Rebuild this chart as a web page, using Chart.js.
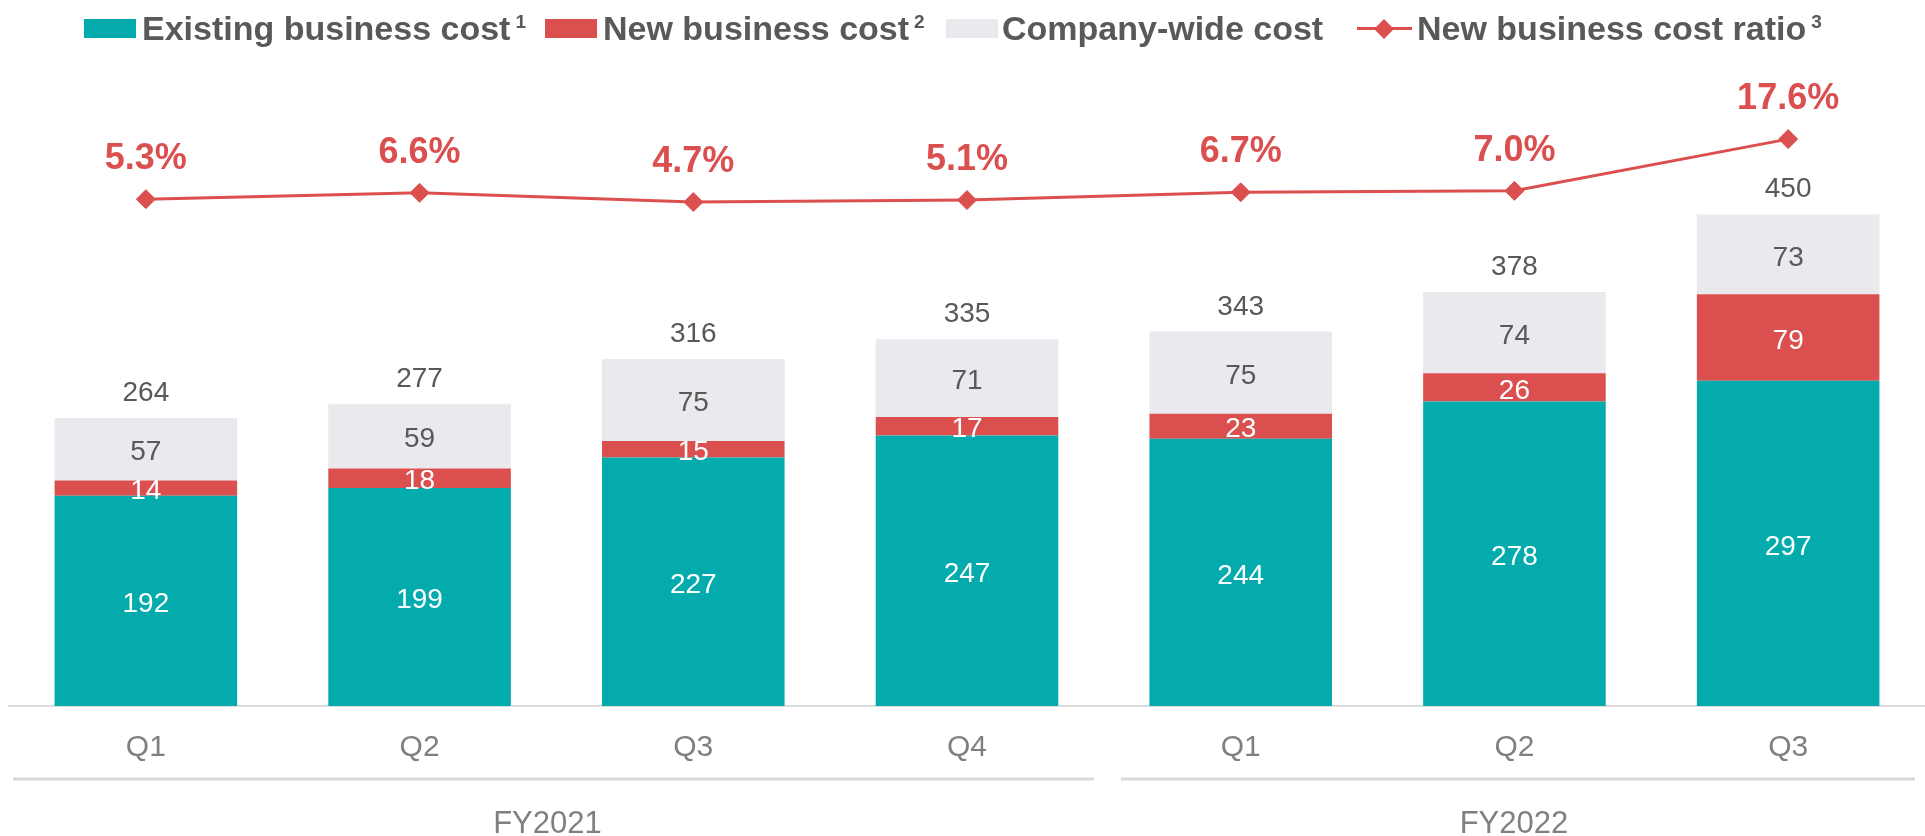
<!DOCTYPE html>
<html>
<head>
<meta charset="utf-8">
<title>Business cost by quarter</title>
<script src="https://cdn.jsdelivr.net/npm/chart.js@4.4.1/dist/chart.umd.min.js"></script>
<style>
  html, body { margin: 0; padding: 0; background: #fff; }
  #wrap {
    position: relative; width: 1925px; height: 836px; overflow: hidden;
    font-family: "Liberation Sans", Arial, Helvetica, sans-serif;
  }
  #costChart { position: absolute; left: 0; top: 0; }
  #legend { position: absolute; left: 0; top: 0; width: 1925px; height: 56px; }
  .lg-item { position: absolute; top: 0; height: 56px; }
  .lg-box { position: absolute; left: 0; top: 19px; width: 52px; height: 19px; }
  .lg-line { position: absolute; left: 0; top: 27px; width: 55px; height: 3px; }
  .lg-diamond { position: absolute; left: 20px; top: 21.5px; width: 14px; height: 14px; transform: rotate(45deg); }
  .lg-text {
    position: absolute; top: 11px; white-space: nowrap;
    font-size: 34px; line-height: 34px; font-weight: bold; color: #595959;
  }
  .lg-text sup {
    font-size: 19px; line-height: 0; vertical-align: baseline;
    position: relative; top: -12px; margin-left: 5px;
  }
</style>
</head>
<body>
<div id="wrap">
  <canvas id="costChart" width="1925" height="836"></canvas>
  <div id="legend"></div>
</div>
<script>
// quarters and the fiscal year each one belongs to
const quarters    = ['Q1', 'Q2', 'Q3', 'Q4', 'Q1', 'Q2', 'Q3'];
const fiscalYears = ['FY2021', 'FY2021', 'FY2021', 'FY2021', 'FY2022', 'FY2022', 'FY2022'];

// cost components
const existingCost    = [192, 199, 227, 247, 244, 278, 297];
const newBizCost      = [14, 18, 15, 17, 23, 26, 79];
const companyWideCost = [57, 59, 75, 71, 75, 74, 73];
// reported totals (rounded separately from the components)
const totalCost       = [264, 277, 316, 335, 343, 378, 450];
// new business cost ratio, %
const newBizRatio     = [5.3, 6.6, 4.7, 5.1, 6.7, 7.0, 17.6];

const TEAL = '#03abac';
const RED  = '#db4f4f';
const GREY = '#e9e9ee';
const TEXT_DARK = '#595959';
const TEXT_AXIS = '#808080';
const FONT = '"Liberation Sans", Arial, Helvetica, sans-serif';

// in-bar values, totals above the stacks and ratio labels above the line
const valueLabels = {
  id: 'valueLabels',
  afterDatasetsDraw(chart) {
    const { ctx } = chart;
    ctx.save();
    ctx.textAlign = 'center';

    ctx.font = `28px ${FONT}`;
    ctx.textBaseline = 'middle';
    chart.data.datasets.forEach((ds, di) => {
      if (ds.type === 'line') return;
      chart.getDatasetMeta(di).data.forEach((bar, i) => {
        ctx.fillStyle = ds.labelColor;
        ctx.fillText(String(ds.data[i]), bar.x, (bar.y + bar.base) / 2 + 3.5);
      });
    });

    // totals
    ctx.textBaseline = 'alphabetic';
    ctx.fillStyle = TEXT_DARK;
    chart.getDatasetMeta(2).data.forEach((bar, i) => {
      ctx.fillText(String(totalCost[i]), bar.x, bar.y - 17);
    });

    // ratio
    ctx.font = `bold 36px ${FONT}`;
    ctx.fillStyle = RED;
    chart.getDatasetMeta(3).data.forEach((pt, i) => {
      ctx.fillText(newBizRatio[i].toFixed(1) + '%', pt.x, pt.y - 30);
    });
    ctx.restore();
  }
};

// fiscal year brackets under the quarter labels
const yearGroups = {
  id: 'yearGroups',
  afterDraw(chart) {
    const { ctx } = chart;
    const x = chart.scales.x;
    const half = (x.getPixelForValue(1) - x.getPixelForValue(0)) / 2;
    const groups = [];
    fiscalYears.forEach((fy, i) => {
      const g = groups[groups.length - 1];
      if (g && g.name === fy) g.last = i;
      else groups.push({ name: fy, first: i, last: i });
    });

    ctx.save();
    groups.forEach((g, gi) => {
      const left = x.getPixelForValue(g.first) - half + (gi === 0 ? 4 : 17);
      const right = x.getPixelForValue(g.last) + half - 10;
      ctx.strokeStyle = '#d9d9d9';
      ctx.lineWidth = 3;
      ctx.beginPath();
      ctx.moveTo(left, 779);
      ctx.lineTo(right, 779);
      ctx.stroke();

      const mid = (left + right) / 2 - (gi === 0 ? 6 : 4);
      ctx.font = `31px ${FONT}`;
      ctx.fillStyle = TEXT_AXIS;
      ctx.textAlign = 'center';
      ctx.textBaseline = 'alphabetic';
      ctx.fillText(g.name, mid, 833);
    });
    ctx.restore();
  }
};

const chart = new Chart(document.getElementById('costChart'), {
  type: 'bar',
  data: {
    labels: quarters,
    datasets: [
      { label: 'Existing business cost', note: '1', data: existingCost, backgroundColor: TEAL, labelColor: '#fff', stack: 'cost', yAxisID: 'y', order: 1 },
      { label: 'New business cost', note: '2', data: newBizCost, backgroundColor: RED, labelColor: '#fff', stack: 'cost', yAxisID: 'y', order: 1 },
      { label: 'Company-wide cost', note: '', data: companyWideCost, backgroundColor: GREY, labelColor: TEXT_DARK, stack: 'cost', yAxisID: 'y', order: 1 },
      {
        type: 'line', label: 'New business cost ratio', note: '3', data: newBizRatio, yAxisID: 'y2', order: 0,
        borderColor: RED, backgroundColor: RED, borderWidth: 3, tension: 0,
        pointStyle: 'rectRot', pointRadius: 9.5, pointBorderWidth: 1, pointBackgroundColor: RED
      }
    ]
  },
  options: {
    responsive: false,
    animation: false,
    layout: { autoPadding: false, padding: { top: 60, left: 9, right: 0, bottom: 0 } },
    datasets: { bar: { categoryPercentage: 1, barPercentage: 0.667 } },
    plugins: { legend: { display: false }, tooltip: { enabled: false } },
    scales: {
      x: {
        stacked: true,
        grid: { display: false, drawTicks: false, tickLength: 0 },
        border: { display: true, color: '#dcdede', width: 2 },
        ticks: { color: TEXT_AXIS, font: { family: FONT, size: 30 }, padding: 24 },
        afterFit: s => { s.height = 130; }
      },
      y: { display: false, stacked: true, min: 0, max: 590 },
      y2: { display: false, min: -98.57, max: 33.81 }
    }
  },
  plugins: [valueLabels, yearGroups]
});

// legend with footnote markers
const legendEl = document.getElementById('legend');
const legendLeft = [84, 545, 946, 1357];
chart.data.datasets.forEach((ds, i) => {
  const item = document.createElement('div');
  item.className = 'lg-item';
  item.style.left = legendLeft[i] + 'px';
  if (ds.type === 'line') {
    item.innerHTML = `<span class="lg-line" style="background:${ds.borderColor}"></span>` +
      `<span class="lg-diamond" style="background:${ds.borderColor}"></span>`;
  } else {
    item.innerHTML = `<span class="lg-box" style="background:${ds.backgroundColor}"></span>`;
  }
  const text = document.createElement('span');
  text.className = 'lg-text';
  text.style.left = (ds.type === 'line' ? 60 : (i === 2 ? 56 : 58)) + 'px';
  text.textContent = ds.label;
  if (ds.note) {
    const sup = document.createElement('sup');
    sup.textContent = ds.note;
    text.appendChild(sup);
  }
  item.appendChild(text);
  legendEl.appendChild(item);
});
</script>
</body>
</html>
